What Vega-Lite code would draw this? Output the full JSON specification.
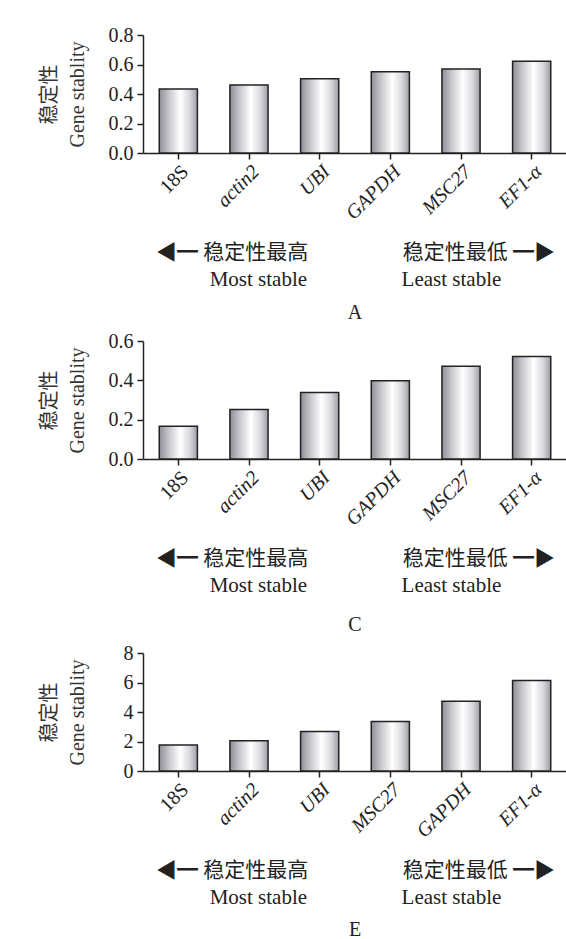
{
  "$schema": "https://vega.github.io/schema/vega-lite/v6.json",
  "padding": {"left": 39, "top": 25, "right": 0, "bottom": 0},
  "background": "white",
  "spacing": 8,
  "config": {
    "font": "Liberation Serif, Noto Sans CJK SC, DejaVu Sans",
    "view": {"stroke": null},
    "axis": {
      "domainColor": "#222", "domainWidth": 1.5, "tickColor": "#222", "tickWidth": 1.5, "tickSize": 6,
      "labelColor": "#222", "labelFontSize": 20, "labelFont": "Liberation Serif",
      "titleFont": "Liberation Serif, Noto Sans CJK SC, DejaVu Sans", "titleFontWeight": "normal",
      "titleFontSize": 20, "titleColor": "#222", "grid": false
    },
    "axisX": {
      "labelAngle": -45, "labelPadding": 2,
      "labelFontStyle": {"condition": {"test": "datum.value === '18S'", "value": "normal"}, "value": "italic"},
      "titleBaseline": "top", "titleY": 88, "titleLineHeight": 27, "titleFontSize": 21
    },
    "axisY": {
      "labelPadding": 4, "minExtent": 40, "maxExtent": 40, "titlePadding": 16, "titleLineHeight": 28, "titleColor": "#333"
    },
    "title": {"orient": "bottom", "offset": 11, "fontSize": 20, "fontWeight": "normal", "font": "Liberation Serif", "color": "#222"}
  },
  "vconcat": [
    {
      "width": 424, "height": 118,
      "title": {"text": "A", "offset": 14},
      "data": {"values": [
        {"gene": "18S", "value": 0.434},
        {"gene": "actin2", "value": 0.461},
        {"gene": "UBI", "value": 0.504},
        {"gene": "GAPDH", "value": 0.551},
        {"gene": "MSC27", "value": 0.569},
        {"gene": "EF1-α", "value": 0.622}
      ]},
      "mark": {"type": "bar", "stroke": "#222", "strokeWidth": 1.5,
        "color": {"gradient": "linear", "x1": 0, "y1": 0, "x2": 1, "y2": 0,
          "stops": [{"offset": 0, "color": "#8e8e96"}, {"offset": 0.25, "color": "#c6c6cc"}, {"offset": 0.55, "color": "#ffffff"}, {"offset": 0.8, "color": "#d8d8dd"}, {"offset": 1, "color": "#9c9ca4"}]}},
      "encoding": {
        "x": {"field": "gene", "type": "nominal", "sort": null,
          "scale": {"paddingInner": 0.46, "paddingOuter": 0.23},
          "axis": {"title": ["◀━ 稳定性最高\u2003\u2003\u2003\u2003\u2002稳定性最低 ━▶", "Most stable\u2003\u2003\u2003\u2003\u2002Least stable"]}},
        "y": {"field": "value", "type": "quantitative",
          "scale": {"domain": [0, 0.8]},
          "axis": {"values": [0, 0.2, 0.4, 0.6, 0.8], "format": ".1f", "title": ["稳定性", "Gene stablity"]}}
      }
    },
    {
      "width": 424, "height": 118,
      "title": {"text": "C", "offset": 20},
      "data": {"values": [
        {"gene": "18S", "value": 0.166},
        {"gene": "actin2", "value": 0.252},
        {"gene": "UBI", "value": 0.338},
        {"gene": "GAPDH", "value": 0.398},
        {"gene": "MSC27", "value": 0.471},
        {"gene": "EF1-α", "value": 0.521}
      ]},
      "mark": {"type": "bar", "stroke": "#222", "strokeWidth": 1.5,
        "color": {"gradient": "linear", "x1": 0, "y1": 0, "x2": 1, "y2": 0,
          "stops": [{"offset": 0, "color": "#8e8e96"}, {"offset": 0.25, "color": "#c6c6cc"}, {"offset": 0.55, "color": "#ffffff"}, {"offset": 0.8, "color": "#d8d8dd"}, {"offset": 1, "color": "#9c9ca4"}]}},
      "encoding": {
        "x": {"field": "gene", "type": "nominal", "sort": null,
          "scale": {"paddingInner": 0.46, "paddingOuter": 0.23},
          "axis": {"title": ["◀━ 稳定性最高\u2003\u2003\u2003\u2003\u2002稳定性最低 ━▶", "Most stable\u2003\u2003\u2003\u2003\u2002Least stable"]}},
        "y": {"field": "value", "type": "quantitative",
          "scale": {"domain": [0, 0.6]},
          "axis": {"values": [0, 0.2, 0.4, 0.6], "format": ".1f", "title": ["稳定性", "Gene stablity"]}}
      }
    },
    {
      "width": 424, "height": 118,
      "title": {"text": "E", "offset": 13},
      "data": {"values": [
        {"gene": "18S", "value": 1.77},
        {"gene": "actin2", "value": 2.05},
        {"gene": "UBI", "value": 2.68},
        {"gene": "MSC27", "value": 3.36},
        {"gene": "GAPDH", "value": 4.73},
        {"gene": "EF1-α", "value": 6.14}
      ]},
      "mark": {"type": "bar", "stroke": "#222", "strokeWidth": 1.5,
        "color": {"gradient": "linear", "x1": 0, "y1": 0, "x2": 1, "y2": 0,
          "stops": [{"offset": 0, "color": "#8e8e96"}, {"offset": 0.25, "color": "#c6c6cc"}, {"offset": 0.55, "color": "#ffffff"}, {"offset": 0.8, "color": "#d8d8dd"}, {"offset": 1, "color": "#9c9ca4"}]}},
      "encoding": {
        "x": {"field": "gene", "type": "nominal", "sort": null,
          "scale": {"paddingInner": 0.46, "paddingOuter": 0.23},
          "axis": {"title": ["◀━ 稳定性最高\u2003\u2003\u2003\u2003\u2002稳定性最低 ━▶", "Most stable\u2003\u2003\u2003\u2003\u2002Least stable"]}},
        "y": {"field": "value", "type": "quantitative",
          "scale": {"domain": [0, 8]},
          "axis": {"values": [0, 2, 4, 6, 8], "format": "d", "title": ["稳定性", "Gene stablity"]}}
      }
    }
  ]
}
